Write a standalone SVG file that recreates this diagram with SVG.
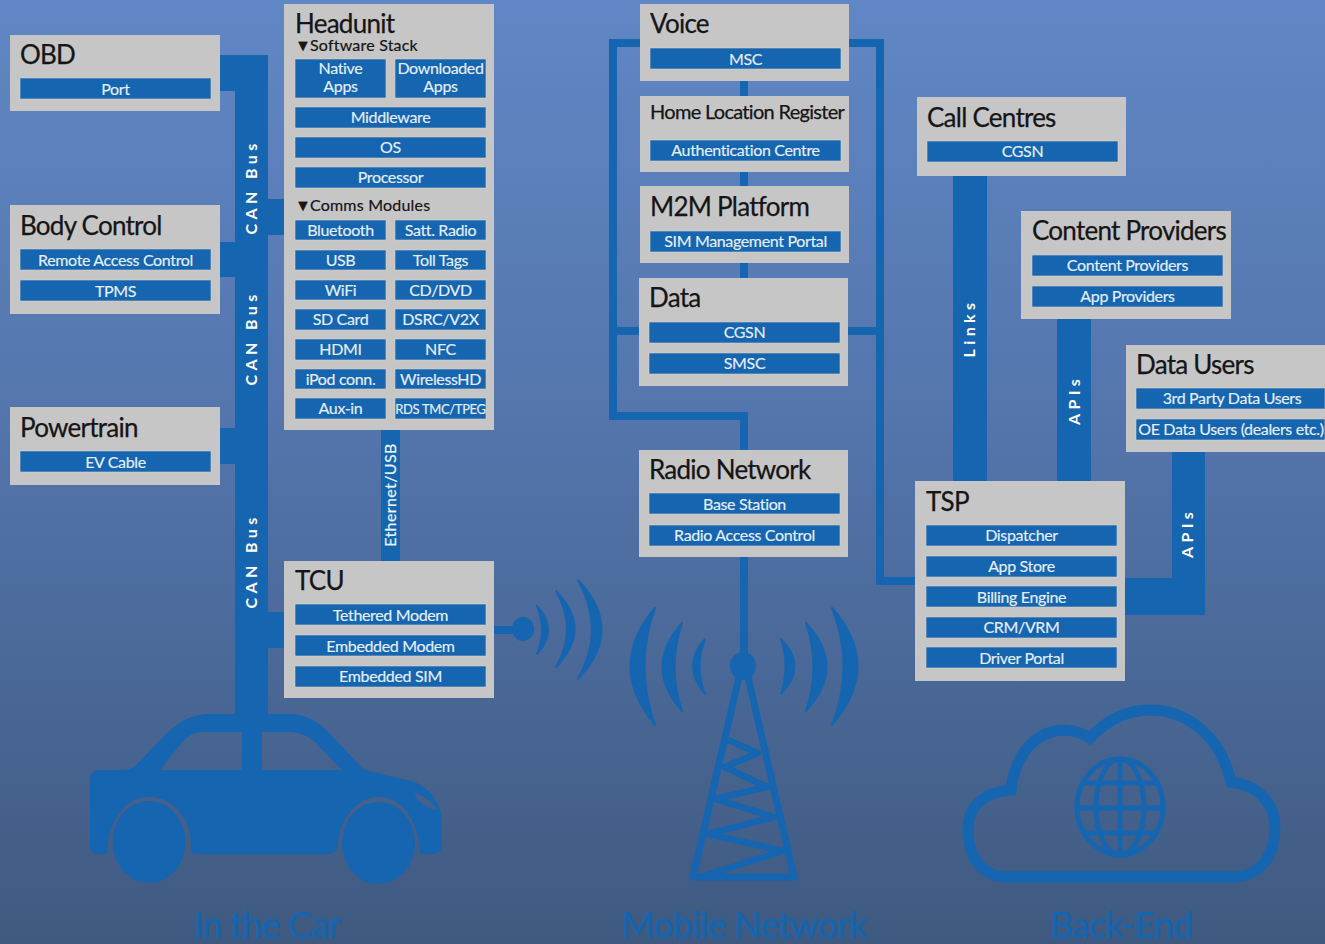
<svg xmlns="http://www.w3.org/2000/svg" width="1325" height="944" viewBox="0 0 1325 944">
<style>
text{font-family:"Lato","Noto Sans",sans-serif}
.n{fill:#c6c6c6}
.r{fill:#1565b0;stroke:#d8cfc6;stroke-width:.6}
.c{fill:#1565b0}
.h{font-size:26px;fill:#151515;letter-spacing:-.75px;stroke:#151515;stroke-width:.25}
.m{font-size:20px;letter-spacing:-.7px}
.s{font-size:16px;fill:#151515;letter-spacing:.2px;stroke:#151515;stroke-width:.2}
.k{font-size:16px;letter-spacing:0}
.t{font-size:16px;fill:#e6eff8;stroke:#e6eff8;stroke-width:.15;text-anchor:middle;letter-spacing:-.35px}
.v{font-size:16px;fill:#fff;font-weight:700;text-anchor:middle;letter-spacing:4.4px}
.e{font-size:16px;fill:#eef4fa;stroke:#eef4fa;stroke-width:.2;text-anchor:middle;letter-spacing:.4px}
.b{font-size:36px;fill:#1565b0;stroke:#1565b0;stroke-width:.5;text-anchor:middle;letter-spacing:-.85px}
.g{fill:none;stroke:#1565b0;stroke-width:5}
.a{stroke:#1565b0;stroke-width:2;stroke-linejoin:round}
</style>
<defs>
<linearGradient id="bg" x1="0" y1="0" x2="0" y2="1"><stop offset="0" stop-color="#6087c5"/><stop offset=".45" stop-color="#5475ac"/><stop offset="1" stop-color="#3f5a80"/></linearGradient>
</defs>
<rect width="1325" height="944" fill="url(#bg)"/>
<g id="connectors" class="c">
<rect x="220" y="55" width="48" height="36"/>
<rect x="235" y="55" width="33" height="665"/>
<rect x="220" y="242" width="16" height="35"/>
<rect x="220" y="428" width="16" height="36"/>
<rect x="267" y="199" width="18" height="36"/>
<rect x="267" y="612" width="18" height="36"/>
<rect x="381" y="430" width="19" height="131"/>
<rect x="609" y="39" width="32" height="8"/>
<rect x="609" y="39" width="8" height="381"/>
<rect x="609" y="327" width="31" height="8"/>
<rect x="609" y="412" width="139" height="8"/>
<rect x="740" y="412" width="8" height="38"/>
<rect x="849" y="39" width="35" height="8"/>
<rect x="876" y="39" width="8" height="546"/>
<rect x="848" y="327" width="30" height="8"/>
<rect x="876" y="577" width="40" height="8"/>
<rect x="740" y="81" width="8" height="15"/>
<rect x="740" y="172" width="8" height="14"/>
<rect x="740" y="263" width="8" height="15"/>
<rect x="740" y="557" width="8" height="110"/>
<rect x="953" y="176" width="34" height="305"/>
<rect x="1057" y="319" width="34" height="162"/>
<rect x="1172" y="452" width="33" height="163"/>
<rect x="1125" y="578" width="80" height="37"/>
<rect x="494" y="626" width="22" height="8"/>
<text class="v" transform="translate(257 187) rotate(-90)">CAN Bus</text>
<text class="v" transform="translate(257 338) rotate(-90)">CAN Bus</text>
<text class="v" transform="translate(257 561) rotate(-90)">CAN Bus</text>
<text class="v" transform="translate(975 328) rotate(-90)">Links</text>
<text class="v" transform="translate(1080 400) rotate(-90)">APIs</text>
<text class="v" transform="translate(1193 533) rotate(-90)">APIs</text>
<text class="e" transform="translate(396 495) rotate(-90)">Ethernet/USB</text>
</g>
<g id="obd"><rect class="n" x="10" y="35" width="210" height="76"/><text class="h" x="20" y="64">OBD</text>
<rect class="r" x="20" y="78" width="191" height="21"/><text class="t" x="115.500" y="94.500">Port</text></g>
<g id="body-control"><rect class="n" x="10" y="205" width="210" height="109"/><text class="h" x="20" y="235">Body Control</text>
<rect class="r" x="20" y="249" width="191" height="21"/><text class="t" x="115.500" y="265.500">Remote Access Control</text>
<rect class="r" x="20" y="280" width="191" height="21"/><text class="t" x="115.500" y="296.500">TPMS</text></g>
<g id="powertrain"><rect class="n" x="10" y="407" width="210" height="78"/><text class="h" x="20" y="437">Powertrain</text>
<rect class="r" x="20" y="451" width="191" height="21"/><text class="t" x="115.500" y="467.500">EV Cable</text></g>
<g id="headunit"><rect class="n" x="284" y="4" width="210" height="426"/><text class="h" x="295" y="33">Headunit</text>
<text class="s" y="51"><tspan class="k" x="295">▼</tspan><tspan x="310">Software Stack</tspan></text>
<rect class="r" x="295" y="59" width="91" height="39"/><text class="t" x="340.500" y="74">Native</text><text class="t" x="340.500" y="92">Apps</text>
<rect class="r" x="395" y="59" width="91" height="39"/><text class="t" x="440.500" y="74">Downloaded</text><text class="t" x="440.500" y="92">Apps</text>
<rect class="r" x="295" y="107" width="191" height="21"/><text class="t" x="390.500" y="123">Middleware</text>
<rect class="r" x="295" y="137" width="191" height="21"/><text class="t" x="390.500" y="153">OS</text>
<rect class="r" x="295" y="167" width="191" height="21"/><text class="t" x="390.500" y="183">Processor</text>
<text class="s" y="211"><tspan class="k" x="295">▼</tspan><tspan x="310">Comms Modules</tspan></text>
<rect class="r" x="295" y="220" width="91" height="20"/><text class="t" x="340.500" y="236">Bluetooth</text>
<rect class="r" x="395" y="220" width="91" height="20"/><text class="t" x="440.500" y="236">Satt. Radio</text>
<rect class="r" x="295" y="250" width="91" height="20"/><text class="t" x="340.500" y="266">USB</text>
<rect class="r" x="395" y="250" width="91" height="20"/><text class="t" x="440.500" y="266">Toll Tags</text>
<rect class="r" x="295" y="280" width="91" height="20"/><text class="t" x="340.500" y="296">WiFi</text>
<rect class="r" x="395" y="280" width="91" height="20"/><text class="t" x="440.500" y="296">CD/DVD</text>
<rect class="r" x="295" y="309" width="91" height="21"/><text class="t" x="340.500" y="325">SD Card</text>
<rect class="r" x="395" y="309" width="91" height="21"/><text class="t" x="440.500" y="325">DSRC/V2X</text>
<rect class="r" x="295" y="339" width="91" height="21"/><text class="t" x="340.500" y="355">HDMI</text>
<rect class="r" x="395" y="339" width="91" height="21"/><text class="t" x="440.500" y="355">NFC</text>
<rect class="r" x="295" y="369" width="91" height="20"/><text class="t" x="340.500" y="385">iPod conn.</text>
<rect class="r" x="395" y="369" width="91" height="20"/><text class="t" x="440.500" y="385">WirelessHD</text>
<rect class="r" x="295" y="398" width="91" height="21"/><text class="t" x="340.500" y="414">Aux-in</text>
<rect class="r" x="395" y="398" width="91" height="21"/><text class="t" x="440.500" y="414" style="font-size:13px">RDS TMC/TPEG</text></g>
<g id="tcu"><rect class="n" x="284" y="561" width="210" height="137"/><text class="h" x="295" y="590">TCU</text>
<rect class="r" x="295" y="604" width="191" height="21"/><text class="t" x="390.500" y="620.500">Tethered Modem</text>
<rect class="r" x="295" y="635" width="191" height="21"/><text class="t" x="390.500" y="651.500">Embedded Modem</text>
<rect class="r" x="295" y="666" width="191" height="21"/><text class="t" x="390.500" y="682">Embedded SIM</text></g>
<g id="voice"><rect class="n" x="640" y="4" width="209" height="77"/><text class="h" x="650" y="33">Voice</text>
<rect class="r" x="650" y="48" width="191" height="21"/><text class="t" x="745.500" y="64.500">MSC</text></g>
<g id="hlr"><rect class="n" x="640" y="96" width="209" height="76"/><text class="h m" x="650" y="119">Home Location Register</text>
<rect class="r" x="650" y="140" width="191" height="21"/><text class="t" x="745.500" y="155.500">Authentication Centre</text></g>
<g id="m2m"><rect class="n" x="640" y="186" width="209" height="77"/><text class="h" x="650" y="216">M2M Platform</text>
<rect class="r" x="650" y="231" width="191" height="21"/><text class="t" x="745.500" y="247">SIM Management Portal</text></g>
<g id="data"><rect class="n" x="639" y="278" width="209" height="108"/><text class="h" x="649" y="307">Data</text>
<rect class="r" x="649" y="322" width="191" height="21"/><text class="t" x="744.500" y="338">CGSN</text>
<rect class="r" x="649" y="353" width="191" height="21"/><text class="t" x="744.500" y="369">SMSC</text></g>
<g id="radio"><rect class="n" x="639" y="450" width="209" height="107"/><text class="h" x="649" y="479">Radio Network</text>
<rect class="r" x="649" y="493" width="191" height="21"/><text class="t" x="744.500" y="509.500">Base Station</text>
<rect class="r" x="649" y="525" width="191" height="21"/><text class="t" x="744.500" y="540.500">Radio Access Control</text></g>
<g id="call-centres"><rect class="n" x="917" y="97" width="209" height="79"/><text class="h" x="927" y="127">Call Centres</text>
<rect class="r" x="927" y="141" width="191" height="21"/><text class="t" x="1022.500" y="157">CGSN</text></g>
<g id="content-providers"><rect class="n" x="1021" y="211" width="210" height="108"/><text class="h" x="1032" y="240">Content Providers</text>
<rect class="r" x="1032" y="255" width="191" height="21"/><text class="t" x="1127.500" y="271">Content Providers</text>
<rect class="r" x="1032" y="286" width="191" height="21"/><text class="t" x="1127.500" y="302">App Providers</text></g>
<g id="data-users"><rect class="n" x="1126" y="345" width="199" height="107"/><text class="h" x="1136" y="374">Data Users</text>
<rect class="r" x="1136" y="388" width="189" height="21"/><text class="t" x="1232" y="404">3rd Party Data Users</text>
<rect class="r" x="1136" y="419" width="189" height="21"/><text class="t" x="1231" y="435">OE Data Users (dealers etc.)</text></g>
<g id="tsp"><rect class="n" x="915" y="481" width="210" height="200"/><text class="h" x="926" y="511">TSP</text>
<rect class="r" x="926" y="525" width="191" height="21"/><text class="t" x="1021.500" y="541">Dispatcher</text>
<rect class="r" x="926" y="556" width="191" height="21"/><text class="t" x="1021.500" y="572">App Store</text>
<rect class="r" x="926" y="586" width="191" height="21"/><text class="t" x="1021.500" y="602.500">Billing Engine</text>
<rect class="r" x="926" y="617" width="191" height="21"/><text class="t" x="1021.500" y="633">CRM/VRM</text>
<rect class="r" x="926" y="647" width="191" height="21"/><text class="t" x="1021.500" y="663.500">Driver Portal</text></g>
<g id="car" class="c">
<path fill-rule="evenodd" d="M100 770H124C131 770 136 766 141 760L164 736C177 722 192 714 210 714H289C306 714 320 722 331 735L361 767C363 769 366 770 369 771L414 782C430 788 442 805 442 822V845C442 851 438 854 433 854H420C419 822 403 797 379 797C355 797 339 822 338 845C338 851 333 854 328 854H196C191 854 191 848 191 842C190 818 173 797 149 797C125 797 108 820 107 854H98C93 854 90 850 90 845V780C90 774 94 770 100 770ZM160 770H242V732H204C195 732 189 735 182 742ZM262 770H342L314 741C306 735 298 732 289 732H262ZM414 793C424 795 434 803 437 810C428 809 418 803 414 793Z"/>
<ellipse cx="149" cy="842" rx="36.500" ry="41"/>
<ellipse cx="378.500" cy="843" rx="36.500" ry="41"/>
</g>
<g id="tcu-signal" class="c">
<ellipse cx="523" cy="629" rx="11" ry="12"/>
<path class="a" d="M537 606Q559 630 537 654Q547 630 537 606Z"/>
<path class="a" d="M556 591Q593 629 556 667Q578 629 556 591Z"/>
<path class="a" d="M578 580Q625 630 578 679Q606 630 578 580Z"/>
</g>
<g id="tower" class="c">
<ellipse cx="743" cy="666" rx="13" ry="14"/>
<path fill="none" stroke="#1565b0" stroke-width="7" stroke-linecap="round" stroke-linejoin="round" d="M739 677L693 877M748 677L794 877M693 877H794"/>
<path fill="none" stroke="#1565b0" stroke-width="6.500" stroke-linejoin="round" d="M728 740L758 753L725 767L767 787L715 799L774 817L708 834L783 851L700 877"/>
<path class="a" d="M655 608Q606 666 655 725Q634 666 655 608Z"/>
<path class="a" d="M682 623Q643 667 682 711Q667 667 682 623Z"/>
<path class="a" d="M705 639Q681 666 705 694Q694 666 705 639Z"/>
<path class="a" d="M781 639Q808 666 781 694Q790 666 781 639Z"/>
<path class="a" d="M806 623Q847 667 806 711Q821 667 806 623Z"/>
<path class="a" d="M832 608Q883 666 832 725Q855 666 832 608Z"/>
</g>
<g id="cloud">
<path fill="none" stroke="#1565b0" stroke-width="11" d="M1007 877H1233C1260 877 1275 855 1275 828C1275 800 1255 785 1231 782C1222 740 1190 710 1150 710C1125 710 1105 722 1090 738C1075 728 1055 728 1040 737C1022 748 1013 770 1011 790C985 792 968 805 968 830C968 860 985 877 1007 877Z"/>
<ellipse class="g" cx="1120" cy="807" rx="43" ry="48"/>
<ellipse class="g" cx="1120" cy="807" rx="24" ry="48"/>
<path class="g" d="M1120 759V855M1077 808H1163M1084 783H1156M1084 833H1156"/>
</g>
<g id="section-labels">
<text class="b" x="267" y="938">In the Car</text>
<text class="b" x="744" y="938">Mobile Network</text>
<text class="b" x="1121" y="938">Back-End</text>
</g>
</svg>
